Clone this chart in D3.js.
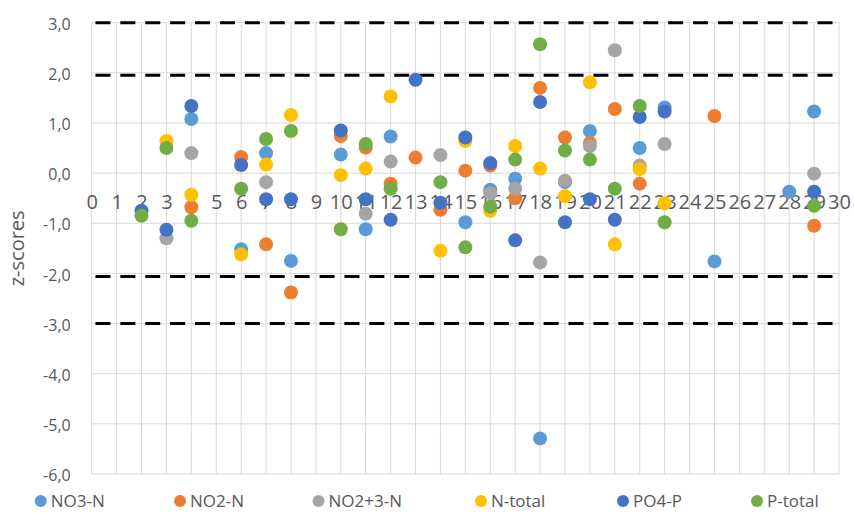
<!DOCTYPE html>
<html><head><meta charset="utf-8">
<script src="https://cdn.jsdelivr.net/npm/d3@7/dist/d3.min.js"></script>
<style>
body{margin:0;background:#fff;}
text{font-family:"Open Sans",sans-serif;fill:#595959;}
</style></head>
<body><svg id="c" width="854" height="513"></svg>
<script>
const seriesNames = ["NO3-N","NO2-N","NO2+3-N","N-total","PO4-P","P-total"];
const colors = ["#5B9BD5","#ED7D31","#A5A5A5","#FFC000","#4472C4","#70AD47"];
// [x, z]
const NO3N = [[4,1.08],[6,-1.52],[7,0.40],[8,-1.75],[10,0.37],[11,-1.12],[12,0.73],[15,-0.98],[16,-0.33],[17,-0.11],[18,-5.29],[19,-0.18],[20,0.84],[22,0.50],[23,1.31],[25,-1.76],[28,-0.37],[29,1.23]];
const NO2N = [[4,-0.68],[6,0.32],[7,-1.42],[8,-2.38],[10,0.74],[11,0.51],[12,-0.21],[13,0.31],[14,-0.73],[15,0.05],[16,0.15],[17,-0.50],[18,1.70],[19,0.71],[20,0.60],[21,1.28],[22,-0.21],[25,1.14],[29,-1.05]];
const NO23N = [[3,-1.30],[4,0.40],[7,-0.18],[11,-0.81],[12,0.23],[14,0.36],[16,-0.40],[17,-0.31],[18,-1.78],[19,-0.15],[20,0.54],[21,2.45],[22,0.15],[23,0.58],[29,-0.01]];
const Ntotal = [[3,0.64],[4,-0.43],[6,-1.62],[7,0.17],[8,1.16],[10,-0.04],[11,0.09],[12,1.53],[14,-1.55],[15,0.64],[16,-0.75],[17,0.54],[18,0.09],[19,-0.46],[20,1.81],[21,-1.42],[22,0.08],[23,-0.60]];
const PO4P = [[2,-0.75],[3,-1.13],[4,1.34],[6,0.16],[7,-0.52],[8,-0.52],[10,0.85],[11,-0.52],[12,-0.93],[13,1.86],[14,-0.59],[15,0.71],[16,0.20],[17,-1.34],[18,1.42],[19,-0.98],[20,-0.52],[21,-0.93],[22,1.12],[23,1.23],[29,-0.37]];
const Ptotal = [[2,-0.85],[3,0.50],[4,-0.95],[6,-0.31],[7,0.68],[8,0.84],[10,-1.12],[11,0.58],[12,-0.31],[14,-0.18],[15,-1.48],[16,-0.67],[17,0.27],[18,2.57],[19,0.45],[20,0.27],[21,-0.31],[22,1.34],[23,-0.98],[29,-0.65]];
const allSeries = [NO3N,NO2N,NO23N,Ntotal,PO4P,Ptotal];
const thresholds = [3.0, 1.95, -2.06, -3.0];
const xTicks = d3.range(0,31);
const yTicks = d3.range(-6,3.01,1);
const yTitle = "z-scores";

const svg = d3.select("#c");
const L=91.7, R=839, T=22.7, B=474;
const x = d3.scaleLinear().domain([0,30]).range([L,R]);
const y = d3.scaleLinear().domain([-6,3]).range([B,T]);

// grid
svg.append("g").selectAll("line").data(yTicks).join("line")
  .attr("x1",L).attr("x2",R).attr("y1",d=>y(d)).attr("y2",d=>y(d))
  .attr("stroke","#D9D9D9").attr("stroke-width",1);
svg.append("g").selectAll("line").data(xTicks).join("line")
  .attr("x1",d=>x(d)).attr("x2",d=>x(d)).attr("y1",T).attr("y2",B)
  .attr("stroke","#D9D9D9").attr("stroke-width",1);

// dashed thresholds
svg.append("g").selectAll("line").data(thresholds).join("line")
  .attr("x1",x(0.15)).attr("x2",x(29.95)).attr("y1",d=>y(d)).attr("y2",d=>y(d))
  .attr("stroke","#000").attr("stroke-width",3).attr("stroke-dasharray","15 9.9");

// y axis labels
const yAxis = d3.axisLeft(y).tickValues(yTicks).tickSize(0).tickPadding(0)
  .tickFormat(d=>d3.format(".1f")(d).replace(".",",").replace("−","-"));
const gy = svg.append("g").attr("transform",`translate(${L-21},1.5)`).call(yAxis);
gy.select(".domain").remove();
gy.selectAll("text").attr("font-size",16).attr("fill","#595959").style("font-family","Open Sans");

// x axis labels
const xAxis = d3.axisBottom(x).tickValues(xTicks).tickSize(0).tickPadding(0).tickFormat(d3.format("d"));
const gx = svg.append("g").attr("transform",`translate(0,${y(0)+22})`).call(xAxis);
gx.select(".domain").remove();
gx.selectAll("text").attr("font-size",20).attr("fill","#595959").style("font-family","Open Sans").attr("dy","0.71em");

// title
svg.append("text").attr("transform",`translate(24,${(T+B)/2}) rotate(-90)`)
  .attr("text-anchor","middle").attr("font-size",20).text(yTitle);

// points
allSeries.forEach((s,i)=>{
  svg.append("g").selectAll("circle").data(s).join("circle")
    .attr("cx",d=>x(d[0])).attr("cy",d=>y(d[1])).attr("r",7).attr("fill",colors[i]);
});

// legend
const legX = [40.7,180,318.5,481,623,757];
const lg = svg.append("g").selectAll("g").data(seriesNames).join("g")
  .attr("transform",(d,i)=>`translate(${legX[i]},501)`);
lg.append("circle").attr("r",6).attr("fill",(d,i)=>colors[i]);
lg.append("text").attr("x",10).attr("dy","0.35em").attr("font-size",17).text(d=>d);
</script></body></html>
